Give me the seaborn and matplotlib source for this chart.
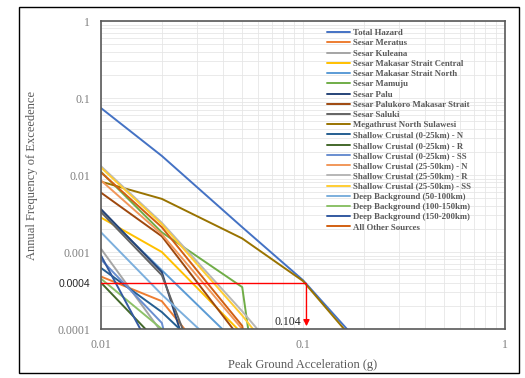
import pandas as pd
import numpy as np
import seaborn as sns
import matplotlib
matplotlib.use('Agg')
import matplotlib.pyplot as plt
from matplotlib.patches import Rectangle

# hazard curves (annual frequency of exceedance at each PGA)
pga = [0.01, 0.02, 0.05, 0.1, 0.2]

total_hazard = [0.074, 0.0177, 0.0021, 0.00043, 0.000057]
sesar_meratus = [0.00048, 0.00023, 1.2e-5, 1e-9, 1e-9]
sesar_kuleana = [0.0011, 9e-5, 1e-8, 1e-9, 1e-9]
sesar_makasar_central = [0.0028, 0.001, 8.7e-5, 1e-9, 1e-9]
sesar_makasar_north = [0.0034, 0.00058, 5.6e-5, 1e-9, 1e-9]
sesar_mamuju = [0.011, 0.0018, 0.00035, 1e-9, 1e-9]
sesar_palu = [0.0036, 0.00055, 2.5e-7, 1e-9, 1e-9]
sesar_palukoro = [0.0059, 0.0016, 7e-5, 1e-9, 1e-9]
sesar_saluki = [0.0033, 0.0005, 1e-6, 1e-9, 1e-9]
megathrust = [0.0082, 0.0049, 0.0015, 0.00042, 5e-5]
sc_0_25_n = [0.00062, 0.000166, 1.7e-5, 1e-9, 1e-9]
sc_0_25_r = [0.0004, 6e-5, 1e-9, 1e-9, 1e-9]
sc_0_25_ss = [0.0008, 0.00012, 1e-8, 1e-9, 1e-9]
sc_25_50_n = [0.0085, 0.0017, 0.0001, 1e-8, 1e-9]
sc_25_50_r = [0.013, 0.0024, 0.00017, 2e-5, 1e-9]
sc_25_50_ss = [0.0125, 0.0023, 0.00015, 1.5e-5, 1e-9]
deep_50_100 = [0.0018, 0.00028, 3e-5, 1e-9, 1e-9]
deep_100_150 = [0.00045, 0.0001, 1e-9, 1e-9, 1e-9]
deep_150_200 = [0.0009, 3e-5, 1e-9, 1e-9, 1e-9]
all_other = [0.0108, 0.0021, 0.00011, 1e-8, 1e-9]

series = {
    'Total Hazard': total_hazard,
    'Sesar Meratus': sesar_meratus,
    'Sesar Kuleana': sesar_kuleana,
    'Sesar Makasar Strait Central': sesar_makasar_central,
    'Sesar Makasar Strait North': sesar_makasar_north,
    'Sesar Mamuju': sesar_mamuju,
    'Sesar Palu': sesar_palu,
    'Sesar Palukoro Makasar Strait': sesar_palukoro,
    'Sesar Saluki': sesar_saluki,
    'Megathrust North Sulawesi': megathrust,
    'Shallow Crustal (0-25km) - N': sc_0_25_n,
    'Shallow Crustal (0-25km) - R': sc_0_25_r,
    'Shallow Crustal (0-25km) - SS': sc_0_25_ss,
    'Shallow Crustal (25-50km) - N': sc_25_50_n,
    'Shallow Crustal (25-50km) - R': sc_25_50_r,
    'Shallow Crustal (25-50km) - SS': sc_25_50_ss,
    'Deep Background (50-100km)': deep_50_100,
    'Deep Background (100-150km)': deep_100_150,
    'Deep Background (150-200km)': deep_150_200,
    'All Other Sources': all_other,
}
colors = ['#4472C4', '#ED7D31', '#A5A5A5', '#FFC000', '#5B9BD5', '#70AD47',
          '#264478', '#9E480E', '#636363', '#997300', '#255E91', '#43682B',
          '#698ED0', '#F1975A', '#B7B7B7', '#FFCD33', '#7CAFDD', '#8CC168',
          '#335AA1', '#D26012']

design_pga = 0.104
design_afe = 0.0004

yticks = [1e-4, 4e-4, 1e-3, 1e-2, 1e-1, 1]
ytick_labels = ['0.0001', '0.0004', '0.001', '0.01', '0.1', '1']
xticks = [0.01, 0.1, 1]
xtick_labels = ['0.01', '0.1', '1']

rows = []
for name, vals in series.items():
    for x, y in zip(pga, vals):
        rows.append({'source': name, 'pga': x, 'afe': y})
df = pd.DataFrame(rows)

sns.set_style('white')
fig = plt.figure(figsize=(5.25, 3.78), dpi=100)
ax = fig.add_axes([0.1924, 0.1296, 0.7696, 0.8148])

sns.lineplot(data=df, x='pga', y='afe', hue='source', hue_order=list(series.keys()),
             palette=colors, estimator=None, sort=False, linewidth=1.4, ax=ax)

ax.set_xscale('log')
ax.set_yscale('log')
ax.set_xlim(0.01, 1)
ax.set_ylim(0.0001, 1)

# design level marker
ax.plot([0.01, design_pga], [design_afe, design_afe], color='red', lw=1.0, zorder=5)
ax.annotate('', xy=(design_pga, 0.0001), xytext=(design_pga, design_afe),
            arrowprops=dict(arrowstyle='-|>', color='red', lw=1.0, mutation_scale=9),
            zorder=5, annotation_clip=False)
ax.text(0.098, 0.000122, '0.104', ha='right', va='center', fontsize=8.5,
        family='Liberation Serif', color='#262626')

ax.grid(True, which='both', color='#E6E6E6', lw=0.6)
ax.set_axisbelow(True)
for s in ax.spines.values():
    s.set_color('#595959')
    s.set_linewidth(1.2)

ax.set_yticks(yticks)
ax.set_yticklabels(ytick_labels)
ax.set_xticks(xticks)
ax.set_xticklabels(xtick_labels)
ax.minorticks_on()
ax.tick_params(which='both', length=0)
ax.tick_params(axis='y', pad=8)
ax.tick_params(axis='x', pad=7)
for lab in ax.get_yticklabels() + ax.get_xticklabels():
    lab.set_family('Liberation Serif')
    lab.set_fontsize(8.5)
    lab.set_color('#7F7F7F')
yl = ax.get_yticklabels()[1]
yl.set_family('Liberation Sans')
yl.set_color('#262626')
yl.set_fontsize(7.5)

ax.set_xlabel('Peak Ground Acceleration (g)', family='Liberation Serif', fontsize=9,
              color='#595959', labelpad=6)
ax.set_ylabel('Annual Frequency of Exceedence', family='Liberation Serif', fontsize=9,
              color='#595959', labelpad=14)

sns.move_legend(ax, 'upper left', bbox_to_anchor=(0.55, 0.985), frameon=False, title=None,
                prop={'family': 'Liberation Serif', 'weight': 'bold', 'size': 6.3},
                labelcolor='#595959', handlelength=2.7, labelspacing=0.24,
                handletextpad=0.3, borderaxespad=0)

fig.add_artist(Rectangle((0.036, 0.014), 0.953, 0.967, transform=fig.transFigure,
                         fill=False, edgecolor='black', lw=1.0))

fig.savefig('out.png', dpi=100)
